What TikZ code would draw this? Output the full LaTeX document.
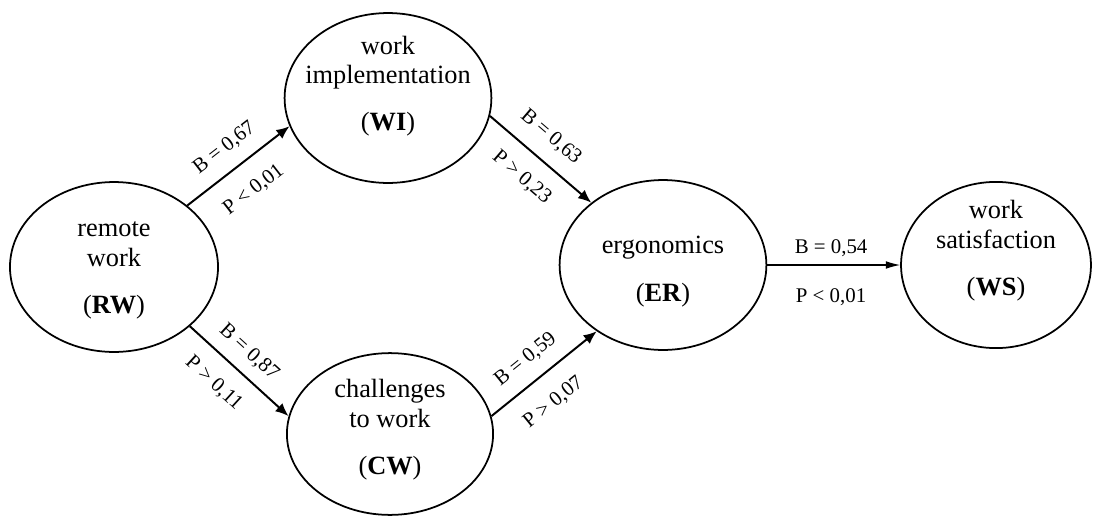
\documentclass[tikz,border=0pt]{standalone}
\usepackage{fontspec}
\setmainfont{Liberation Serif}
\usetikzlibrary{shapes.geometric, arrows.meta}

\tikzset{
    var/.style={draw, ellipse, thick, inner sep=0pt},
    vartext/.style={align=center, font=\fontsize{12}{13.5}\selectfont},
    path/.style={line width=0.9pt, -{Latex[length=6pt, width=5pt]}},
    coef/.style={font=\fontsize{9.5}{11}\selectfont, sloped, inner sep=2pt}
}

\begin{document}
\begin{tikzpicture}[x=0.016cm, y=-0.016cm]
    \useasboundingbox (0,0) rectangle (1098,517);

    \node[var, minimum width=3.33cm, minimum height=2.72cm,
        label={[vartext, yshift=-1.5pt]center:{remote\\work\\[8pt](\textbf{RW})}}]
        (RW) at (114,267) {};
    \node[var, minimum width=3.31cm, minimum height=2.72cm,
        label={[vartext, yshift=5.4pt]center:{work\\implementation\\[8pt](\textbf{WI})}}]
        (WI) at (388,98) {};
    \node[var, minimum width=3.30cm, minimum height=2.59cm,
        label={[vartext, yshift=2pt]center:{challenges\\to work\\[8pt](\textbf{CW})}}]
        (CW) at (390,434) {};
    \node[var, minimum width=3.31cm, minimum height=2.72cm,
        label={[vartext, yshift=-3pt]center:{ergonomics\\[8pt](\textbf{ER})}}]
        (ER) at (663,265) {};
    \node[var, minimum width=3.04cm, minimum height=2.66cm,
        label={[vartext, yshift=6.5pt]center:{work\\satisfaction\\[8pt](\textbf{WS})}}]
        (WS) at (996,265) {};

    \draw[path] (RW.40) -- (WI.196.5)
        node[coef, pos=0.5, above=4pt]{B = 0,67}
        node[coef, pos=0.48, below=6.6pt]{P < 0,01};
    \draw[path] (RW.322) -- (CW.170.5)
        node[coef, pos=0.46, above=3pt]{B = 0,87}
        node[coef, pos=0.42, below=5.5pt]{P > 0,11};
    \draw[path] (WI.350.5) -- (ER.139.4)
        node[coef, pos=0.45, above=4.5pt]{B = 0,63}
        node[coef, pos=0.48, below=5.5pt]{P > 0,23};
    \draw[path] (CW.10.8) -- (ER.225)
        node[coef, pos=0.46, above=4pt]{B = 0,59}
        node[coef, pos=0.42, below=6.6pt]{P > 0,07};
    \draw[-{Latex[length=6.5pt, width=3.5pt]}, line width=0.5pt] (ER.east) -- (WS.west)
        node[coef, pos=0.48, above=1.7pt]{B = 0,54}
        node[coef, pos=0.48, below=8.4pt]{P < 0,01};
\end{tikzpicture}
\end{document}
